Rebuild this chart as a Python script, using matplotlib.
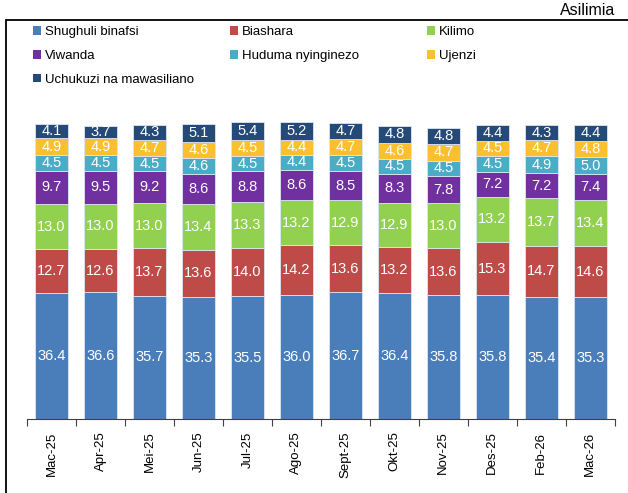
import numpy as np
import matplotlib.pyplot as plt
from matplotlib.patches import Rectangle

plt.rcParams['font.family'] = ['Liberation Sans', 'DejaVu Sans']

months = ['Mac-25', 'Apr-25', 'Mei-25', 'Jun-25', 'Jul-25', 'Ago-25', 'Sept-25',
          'Okt-25', 'Nov-25', 'Des-25', 'Feb-26', 'Mac-26']

shughuli = [36.4, 36.6, 35.7, 35.3, 35.5, 36.0, 36.7, 36.4, 35.8, 35.8, 35.4, 35.3]
biashara = [12.7, 12.6, 13.7, 13.6, 14.0, 14.2, 13.6, 13.2, 13.6, 15.3, 14.7, 14.6]
kilimo = [13.0, 13.0, 13.0, 13.4, 13.3, 13.2, 12.9, 12.9, 13.0, 13.2, 13.7, 13.4]
viwanda = [9.7, 9.5, 9.2, 8.6, 8.8, 8.6, 8.5, 8.3, 7.8, 7.2, 7.2, 7.4]
huduma = [4.5, 4.5, 4.5, 4.6, 4.5, 4.4, 4.5, 4.5, 4.5, 4.5, 4.9, 5.0]
ujenzi = [4.9, 4.9, 4.7, 4.6, 4.5, 4.4, 4.7, 4.6, 4.7, 4.5, 4.7, 4.8]
uchukuzi = [4.1, 3.7, 4.3, 5.1, 5.4, 5.2, 4.7, 4.8, 4.8, 4.4, 4.3, 4.4]

series = [
    ('Shughuli binafsi', shughuli, '#4a7ebb'),
    ('Biashara', biashara, '#be4b48'),
    ('Kilimo', kilimo, '#92d050'),
    ('Viwanda', viwanda, '#7030a0'),
    ('Huduma nyinginezo', huduma, '#4bacc6'),
    ('Ujenzi', ujenzi, '#fbbf2f'),
    ('Uchukuzi na mawasiliano', uchukuzi, '#254a78'),
]

fig = plt.figure(figsize=(6.28, 4.93), dpi=100)
ax = fig.add_axes([0.043, 0.150, 0.936, 0.647])

x = np.arange(len(months))
bottom = np.zeros(len(months))
handles = []
for name, vals, color in series:
    vals = np.array(vals)
    bars = ax.bar(x, vals, 0.67, bottom=bottom, color=color,
                  edgecolor='#dce6f2', linewidth=0.6, label=name)
    handles.append(bars)
    for xi, b, v in zip(x, bottom, vals):
        ax.text(xi, b + v / 2, '{:.1f}'.format(v), ha='center', va='center',
                color='white', fontsize=10.5)
    bottom += vals

ax.set_xlim(-0.5, len(months) - 0.5)
ax.set_ylim(0, 92.2)
for s in ('top', 'right', 'left'):
    ax.spines[s].set_visible(False)
ax.spines['bottom'].set_color('#404040')
ax.set_yticks([])
ax.set_xticks(np.arange(-0.5, len(months), 1.0))
ax.set_xticklabels([])
ax.set_xticks(x, minor=True)
ax.set_xticklabels(months, minor=True, rotation=90, fontsize=9.5)
ax.tick_params(axis='x', which='major', length=5, direction='out', color='#404040')
ax.tick_params(axis='x', which='minor', length=0, pad=9)

# legend: three columns placed by hand, rows read left to right
columns = [[0, 3, 6], [1, 4], [2, 5]]
col_x = [33, 230, 427]
for idx, cx in zip(columns, col_x):
    leg = fig.legend([handles[i] for i in idx], [series[i][0] for i in idx],
                     loc='upper left', bbox_to_anchor=(cx / 628, 0.947),
                     frameon=False, fontsize=9.5, handlelength=0.6,
                     handleheight=0.6, handletextpad=0.3, labelspacing=0.9,
                     borderpad=0, borderaxespad=0)
    for h in leg.legend_handles:
        h.set_edgecolor('none')

fig.text(0.979, 0.978, 'Asilimia', ha='right', va='center', fontsize=11.5)

fig.patches.append(Rectangle((0.0096, -0.1), 1.2, 0.9594 + 0.1, fill=False,
                             linewidth=1.3, edgecolor='black',
                             transform=fig.transFigure, figure=fig))

fig.savefig('out.png', dpi=100)
